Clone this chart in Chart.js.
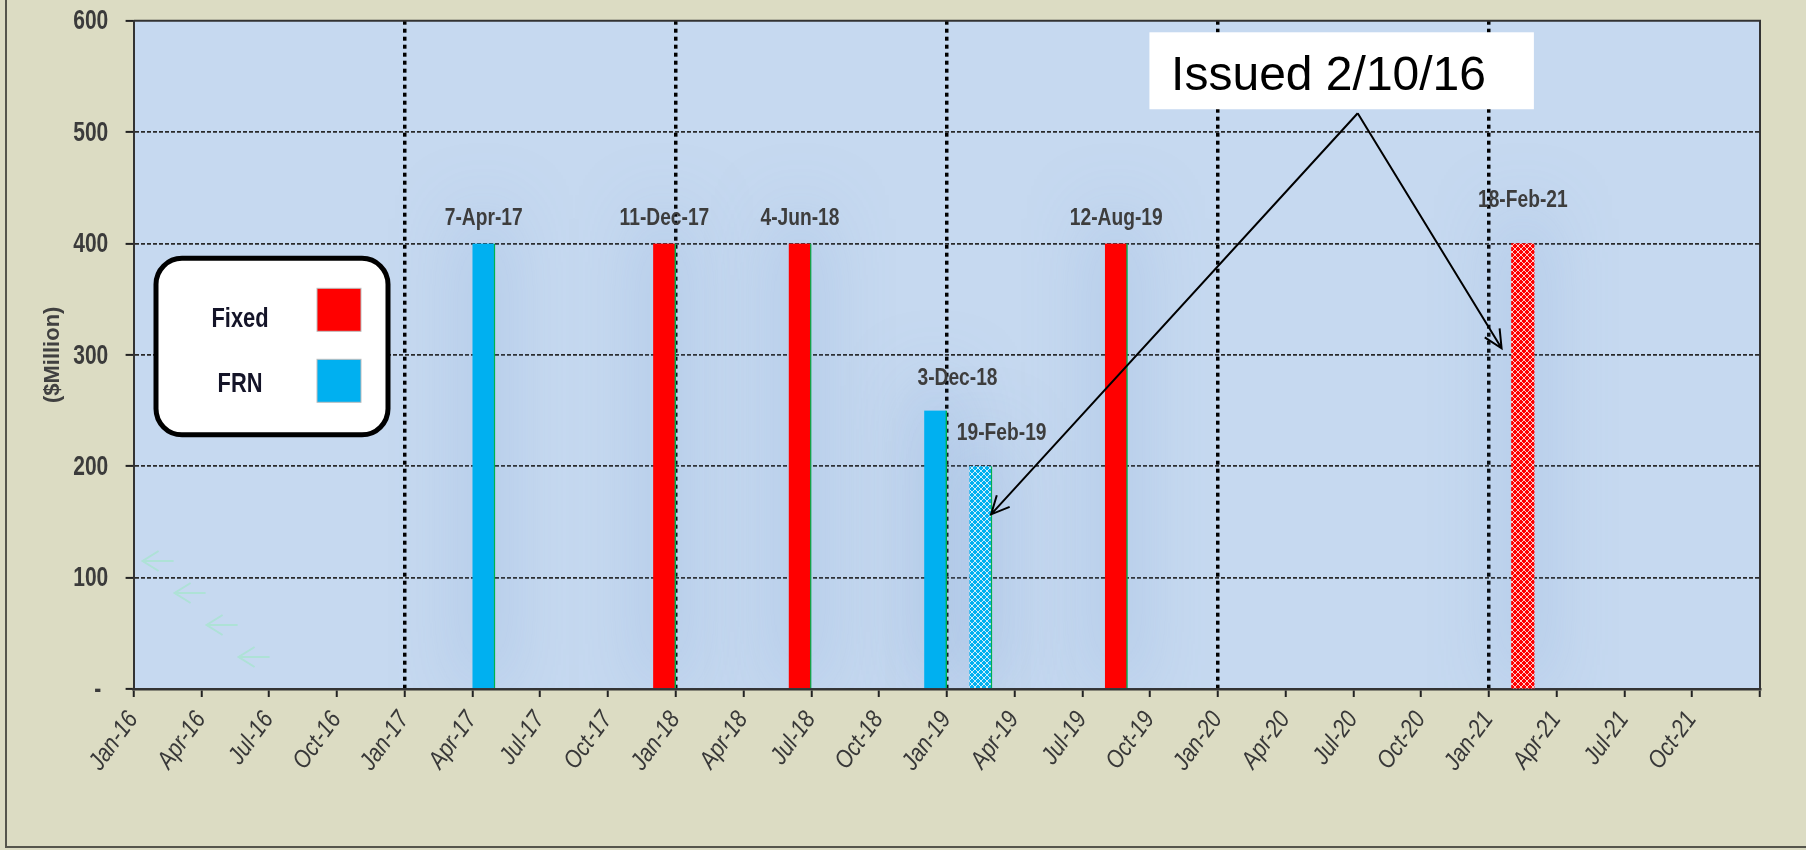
<!DOCTYPE html>
<html>
<head>
<meta charset="utf-8">
<title>Debt maturity profile</title>
<script src="https://cdn.jsdelivr.net/npm/chart.js@4.4.1/dist/chart.umd.min.js"></script>
<style>
  html, body { margin: 0; padding: 0; background: #DCDCC3; }
  #wrap { position: relative; width: 1806px; height: 850px; overflow: hidden; }
  #frame { position: absolute; left: 5px; top: -4px; width: 1820px; height: 852px; border-left: 2px solid #55554c; border-bottom: 2px solid #55554c; box-sizing: border-box; }
  #chart { position: absolute; left: 0; top: 0; }
</style>
</head>
<body>
<div id="wrap">
  <div id="frame"></div>
  <canvas id="chart" width="1806" height="850"></canvas>
</div>
<script>
'use strict'

// maturities, $Million
const issueDates = ['7-Apr-17', '11-Dec-17', '4-Jun-18', '3-Dec-18', '19-Feb-19', '12-Aug-19', '18-Feb-21']
const amounts = [400, 400, 400, 250, 200, 400, 400]
const couponType = ['FRN', 'Fixed', 'Fixed', 'FRN', 'FRN', 'Fixed', 'Fixed']
const newIssue = [false, false, false, false, true, false, true]   // the two hatched ones

const seriesNames = ['Fixed', 'FRN']
const seriesColors = ['#FF0000', '#00B0F0']

const monthNames = ['Jan', 'Feb', 'Mar', 'Apr', 'May', 'Jun', 'Jul', 'Aug', 'Sep', 'Oct', 'Nov', 'Dec']
const startYear = 2016
const endYear = 2022
const yMax = 600
const yStep = 100

const calloutText = 'Issued 2/10/16'

const ARIAL = '"Liberation Sans", Arial, sans-serif'

// month slot index from '7-Apr-17' (bars fill their month, like an Excel date axis)
function monthSlot(d) {
    let p = d.split('-')
    let yr = 2000 + Number(p[2])
    return (yr - startYear) * 12 + monthNames.indexOf(p[1]) + 0.5
}

function hatch(color) {
    let c = document.createElement('canvas')
    c.width = 6
    c.height = 6
    let g = c.getContext('2d')
    g.fillStyle = color
    g.fillRect(0, 0, 6, 6)
    g.strokeStyle = 'rgba(255,255,255,0.8)'
    g.lineWidth = 1
    g.beginPath()
    g.moveTo(0, 0); g.lineTo(6, 6)
    g.moveTo(6, 0); g.lineTo(0, 6)
    g.stroke()
    return g.createPattern(c, 'repeat')
}

// the original uses a narrow face; squeeze a regular one sideways
function narrowText(ctx, txt, x, y, squeeze, angle) {
    ctx.save()
    ctx.translate(x, y)
    if (angle) ctx.rotate(angle)
    ctx.scale(squeeze, 1)
    ctx.fillText(txt, 0, 0)
    ctx.restore()
}

let datasets = seriesNames.map((name, s) => {
    let pts = [], fills = [], borders = []
    issueDates.forEach((d, i) => {
        if (couponType[i] !== name) return
        pts.push({ x: monthSlot(d), y: amounts[i], label: d, idx: i })
        fills.push(newIssue[i] ? hatch(seriesColors[s]) : seriesColors[s])
        borders.push(newIssue[i] && name === 'Fixed' ? 0 : { right: 1.5 })
    })
    return {
        label: name,
        data: pts,
        backgroundColor: fills,
        borderColor: '#00B050',
        borderWidth: borders,
        borderSkipped: 'bottom',
        barThickness: 22.6,
        grouped: false,
        clip: 0
    }
})

// per label nudges (px), as placed in the original
const labelLift = [18, 18, 18, 26, 26, 18, 36]
const labelShift = [0, 0, 0, 22, 21, 0, 0]

// callout, in data units (months from Jan-16, $Million)
const callout = {
    box: [44.97, 589.6, 61.99, 520.5],
    textAt: [45.93, 537.8],
    apex: [54.19, 516.9],
    tips: [[37.96, 156.8], [60.56, 305.9]]
}

const plotBackground = {
    id: 'plotBackground',
    beforeDraw(chart) {
        const { ctx, chartArea: a } = chart
        ctx.save()
        ctx.fillStyle = '#C6D9F0'
        ctx.fillRect(a.left, a.top, a.right - a.left, a.bottom - a.top)
        ctx.restore()
    }
}

const barGlow = {
    id: 'barGlow',
    beforeDatasetsDraw(chart) {
        const { ctx, chartArea: a } = chart
        ctx.save()
        ctx.beginPath()
        ctx.rect(a.left, a.top, a.right - a.left, a.bottom - a.top)
        ctx.clip()
        ctx.shadowColor = 'rgba(115,155,212,0.5)'
        ctx.shadowBlur = 70
        ctx.shadowOffsetX = 10000
        ctx.fillStyle = '#000'
        chart.data.datasets.forEach((ds, i) => {
            chart.getDatasetMeta(i).data.forEach(bar => {
                ctx.fillRect(bar.x - bar.width / 2 - 10000, bar.y - 25, bar.width, bar.base - bar.y + 25)
            })
        })
        ctx.restore()

        // faint leftover arrows near the origin
        ctx.save()
        ctx.strokeStyle = 'rgba(165,228,205,0.75)'
        ctx.lineWidth = 2
        for (let k = 0; k < 4; k++) {
            let tx = a.left + 9 + k * 32, ty = a.bottom - 128 + k * 32
            ctx.beginPath()
            ctx.moveTo(tx + 31, ty); ctx.lineTo(tx, ty)
            ctx.moveTo(tx + 16, ty - 10); ctx.lineTo(tx, ty); ctx.lineTo(tx + 16, ty + 10)
            ctx.stroke()
        }
        ctx.restore()
    }
}

const dateLabels = {
    id: 'dateLabels',
    afterDatasetsDraw(chart) {
        const { ctx } = chart
        ctx.save()
        ctx.font = 'bold 24px ' + ARIAL
        ctx.fillStyle = '#3d3d3d'
        ctx.textAlign = 'center'
        ctx.textBaseline = 'alphabetic'
        chart.data.datasets.forEach((ds, i) => {
            chart.getDatasetMeta(i).data.forEach((bar, j) => {
                let p = ds.data[j]
                narrowText(ctx, p.label, bar.x + labelShift[p.idx], bar.y - labelLift[p.idx], 0.8)
            })
        })
        ctx.restore()
    }
}

// tick labels drawn from the scales' own ticks
const axisText = {
    id: 'axisText',
    afterDraw(chart) {
        const { ctx, chartArea: a, scales: { x, y } } = chart
        ctx.save()
        ctx.fillStyle = '#3b3b3b'
        ctx.font = 'bold 28px ' + ARIAL
        ctx.textAlign = 'right'
        ctx.textBaseline = 'middle'
        y.ticks.forEach(t => {
            let shift = t.label === '-' ? 7 : 0
            narrowText(ctx, String(t.label), a.left - 25.3 - shift, y.getPixelForValue(t.value) + 1, 0.75)
        })

        ctx.fillStyle = '#383838'
        ctx.font = 'italic 25px ' + ARIAL
        ctx.textAlign = 'right'
        ctx.textBaseline = 'alphabetic'
        x.ticks.forEach(t => {
            if (!t.label) return
            narrowText(ctx, t.label, x.getPixelForValue(t.value) + 5, a.bottom + 30, 0.85, -54 * Math.PI / 180)
        })
        ctx.restore()
    }
}

const frameAndNotes = {
    id: 'frameAndNotes',
    afterDraw(chart) {
        const { ctx, chartArea: a, scales: { x, y } } = chart

        // top and right edge of the plot
        ctx.save()
        ctx.strokeStyle = '#333'
        ctx.lineWidth = 2
        ctx.beginPath()
        ctx.moveTo(a.left, a.top); ctx.lineTo(a.right, a.top); ctx.lineTo(a.right, a.bottom)
        ctx.stroke()
        ctx.restore()

        // legend box
        let lx = a.left + 22.4, ly = a.top + 237.6
        ctx.save()
        ctx.beginPath()
        ctx.roundRect(lx, ly, 232, 176.5, 26)
        ctx.fillStyle = '#fff'
        ctx.fill()
        ctx.lineWidth = 5
        ctx.strokeStyle = '#000'
        ctx.stroke()
        ctx.font = 'bold 28px ' + ARIAL
        ctx.textAlign = 'center'
        seriesNames.forEach((name, s) => {
            ctx.fillStyle = '#141428'
            narrowText(ctx, name, lx + 84, ly + 68.5 + s * 65, 0.78)
            ctx.fillStyle = seriesColors[s]
            ctx.fillRect(lx + 161, ly + 30 + s * 71, 44, 43)
            ctx.strokeStyle = '#bdbdbd'
            ctx.lineWidth = 1
            ctx.strokeRect(lx + 161, ly + 30 + s * 71, 44, 43)
        })
        ctx.restore()

        // callout
        let bx0 = x.getPixelForValue(callout.box[0]), by0 = y.getPixelForValue(callout.box[1])
        let bx1 = x.getPixelForValue(callout.box[2]), by1 = y.getPixelForValue(callout.box[3])
        ctx.save()
        ctx.fillStyle = '#fff'
        ctx.fillRect(bx0, by0, bx1 - bx0, by1 - by0)
        ctx.fillStyle = '#000'
        ctx.font = '48px ' + ARIAL
        ctx.textAlign = 'left'
        ctx.fillText(calloutText, x.getPixelForValue(callout.textAt[0]), y.getPixelForValue(callout.textAt[1]))

        let ax = x.getPixelForValue(callout.apex[0]), ay = y.getPixelForValue(callout.apex[1])
        ctx.strokeStyle = '#000'
        ctx.lineWidth = 2
        callout.tips.forEach(t => {
            let tx = x.getPixelForValue(t[0]), ty = y.getPixelForValue(t[1])
            let ang = Math.atan2(ay - ty, ax - tx)
            ctx.beginPath()
            ctx.moveTo(ax, ay); ctx.lineTo(tx, ty)
            ctx.moveTo(tx + 20 * Math.cos(ang + 0.45), ty + 20 * Math.sin(ang + 0.45))
            ctx.lineTo(tx, ty)
            ctx.lineTo(tx + 20 * Math.cos(ang - 0.45), ty + 20 * Math.sin(ang - 0.45))
            ctx.stroke()
        })
        ctx.restore()
    }
}

const totalMonths = (endYear - startYear) * 12

new Chart(document.querySelector('#chart').getContext('2d'), {
    type: 'bar',
    data: { datasets: datasets },
    options: {
        responsive: false,
        animation: false,
        devicePixelRatio: 1,
        layout: { padding: { left: 0, top: 20.7, right: 46, bottom: 0 } },
        plugins: {
            legend: { display: false },
            tooltip: { enabled: false }
        },
        scales: {
            x: {
                type: 'linear',
                min: 0,
                max: totalMonths,
                offset: false,
                afterFit(scale) { scale.height = 161 },
                ticks: {
                    display: false,
                    stepSize: 3,
                    autoSkip: false,
                    callback(v) {
                        if (v >= totalMonths) return ''
                        let yy = String(startYear + Math.floor(v / 12)).slice(2)
                        return monthNames[v % 12] + '-' + yy
                    }
                },
                grid: {
                    offset: false,
                    color: ctx => (ctx.tick && ctx.tick.value % 12 === 0 && ctx.tick.value > 0 && ctx.tick.value < totalMonths) ? '#000' : 'transparent',
                    lineWidth: 3.5,
                    tickColor: '#222',
                    tickWidth: 2,
                    tickLength: 8
                },
                border: { display: true, color: '#333', width: 2.5, dash: [4, 4] }
            },
            y: {
                min: 0,
                max: yMax,
                afterFit(scale) { scale.width = 133.6 },
                title: {
                    display: true,
                    text: '($Million)',
                    color: '#404040',
                    font: { family: ARIAL, size: 22, weight: 'bold' },
                    padding: { top: 39.8, bottom: 0 }
                },
                ticks: {
                    display: false,
                    stepSize: yStep,
                    callback: v => v === 0 ? '-' : String(v)
                },
                grid: {
                    color: ctx => (ctx.tick && ctx.tick.value > 0 && ctx.tick.value < yMax) ? '#2a2a2a' : 'transparent',
                    lineWidth: 1.8,
                    tickColor: '#222',
                    tickWidth: 2,
                    tickLength: 8
                },
                border: { display: true, color: '#333', width: 2, dash: [4, 2] }
            }
        }
    },
    plugins: [plotBackground, barGlow, dateLabels, axisText, frameAndNotes]
})
</script>
</body>
</html>
